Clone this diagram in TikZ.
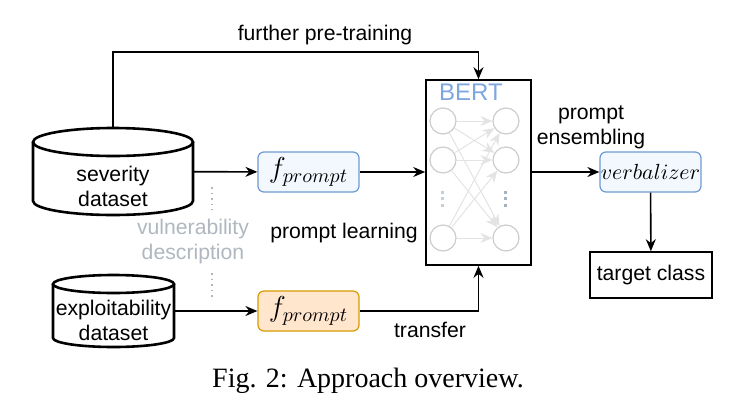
\documentclass[tikz,border=0pt]{standalone}
\usepackage{fontspec}
\setmainfont{Liberation Sans}
\newfontfamily\capfont{Liberation Serif}
\usetikzlibrary{arrows.meta}

\definecolor{bertblue}{HTML}{7EA6E0}
\definecolor{boxblue}{HTML}{6C9BD2}
\definecolor{fillblue}{HTML}{F3F8FE}
\definecolor{boxorange}{HTML}{D79B00}
\definecolor{fillorange}{HTML}{FFE6CC}
\definecolor{neurongray}{HTML}{CCCCCC}
\definecolor{syngray}{HTML}{E3E3E3}
\definecolor{descgray}{HTML}{B0B7BE}
\definecolor{dotlight}{HTML}{C3D1DE}
\definecolor{dotdark}{HTML}{A5B2C0}

\tikzset{
  txt/.style = {font=\fontsize{10.6}{12.5}\selectfont, align=center},
  arr/.style = {-{Stealth[length=6pt, width=5pt]}, line width=0.8pt},
  dbnode/.style = {inner sep=0pt},
  dbline/.style = {draw, fill=white, line width=1.3pt},
  fbox/.style = {draw, rounded corners=3pt, line width=0.6pt, minimum width=50.5pt, minimum height=20pt, inner sep=0pt, font=\fontsize{14}{14}\selectfont},
  neuron/.style = {draw=neurongray, circle, minimum size=13pt, inner sep=0pt, line width=0.6pt},
  syn/.style = {draw=syngray, -{Stealth[length=6pt, width=5pt]}, line width=0.5pt},
  neurondots/.style = {line width=1.5pt, dash pattern=on 1.5pt off 1.7pt},
}

\begin{document}
\begin{tikzpicture}[x=0.5pt, y=-0.5pt]
  \useasboundingbox (0,0) rectangle (736,414);

  % BERT block
  \node[draw, line width=0.8pt, minimum width=52.5pt, minimum height=92.5pt] (bert) at (478.5,172.5) {};
  \node[txt, text=bertblue, font=\fontsize{12}{12}\selectfont] (berttitle) at (471,92) {BERT};

  \foreach \r/\y in {0/121, 1/160, 2/238} {
    \node[neuron] (in_\r) at (443,\y) {};
    \node[neuron] (out_\r) at (506,\y) {};
  }
  \foreach \i in {0, ..., 2}
    \foreach \j in {0, ..., 2}
      \draw[syn] (in_\i) -- (out_\j);
  \draw[neurondots, dotlight] (443,190.8) -- (443,207);
  \draw[neurondots, dotdark] (506,190.8) -- (506,207);

  % datasets
  \draw[dbline] (33,142) -- (33,201) arc[start angle=180, end angle=0, x radius=80, y radius=14] -- (193,142);
  \draw[dbline] (113,142) ellipse [x radius=80, y radius=14];
  \node[dbnode, minimum width=80pt, minimum height=43.5pt] (sev) at (113,171.5) {};
  \node[txt] (sevlabel) at (113,186) {severity\\dataset};

  \draw[dbline] (53,284) -- (53,338) arc[start angle=180, end angle=0, x radius=60.5, y radius=9] -- (174,284);
  \draw[dbline] (113.5,284) ellipse [x radius=60.5, y radius=9];
  \node[dbnode, minimum width=60.5pt, minimum height=36pt] (exp) at (113.5,311) {};
  \node[txt] (explabel) at (113.5,320) {exploitability\\dataset};

  % prompts
  \node[fbox, draw=boxblue, fill=fillblue] (fsev) at (308.5,172) {$f_{prompt}$};
  \node[fbox, draw=boxorange, fill=fillorange] (fexp) at (308.5,311) {$f_{prompt}$};
  \node[fbox, draw=boxblue, fill=fillblue, font=\fontsize{11.1}{11.1}\selectfont] (verb) at (650.5,172) {$verbalizer$};
  \node[draw, line width=0.8pt, minimum width=60pt, minimum height=23pt, txt] (target) at (651,275) {target class};

  % labels
  \node[txt] (pretrain) at (325,35) {further pre-training};
  \node[txt] (learning) at (344,233) {prompt learning};
  \node[txt] (ensemble) at (591,127) {prompt\\ensembling};
  \node[txt] (transfer) at (430,330) {transfer};
  \node[txt, text=descgray] (vuln) at (193,242) {vulnerability\\description};
  \node[font=\capfont\fontsize{14}{14}\selectfont] (caption) at (368,381) {Fig. 2: Approach overview.};

  \draw[descgray, line width=0.8pt, dotted] (212,187) -- (212,210);
  \draw[descgray, line width=0.8pt, dotted] (212,273) -- (212,297);

  % connectors
  \coordinate (top) at (478.5,52);
  \draw[arr] (sev.north) |- (top) -- (bert.north);
  \draw[arr] (sev) -- (fsev);
  \draw[arr] (fsev) -- (bert.west |- fsev);
  \draw[arr] (bert.east |- verb) -- (verb);
  \draw[arr] (verb) -- (target);
  \draw[arr] (exp) -- (fexp);
  \draw[arr] (fexp) -| (bert.south);

\end{tikzpicture}
\end{document}
